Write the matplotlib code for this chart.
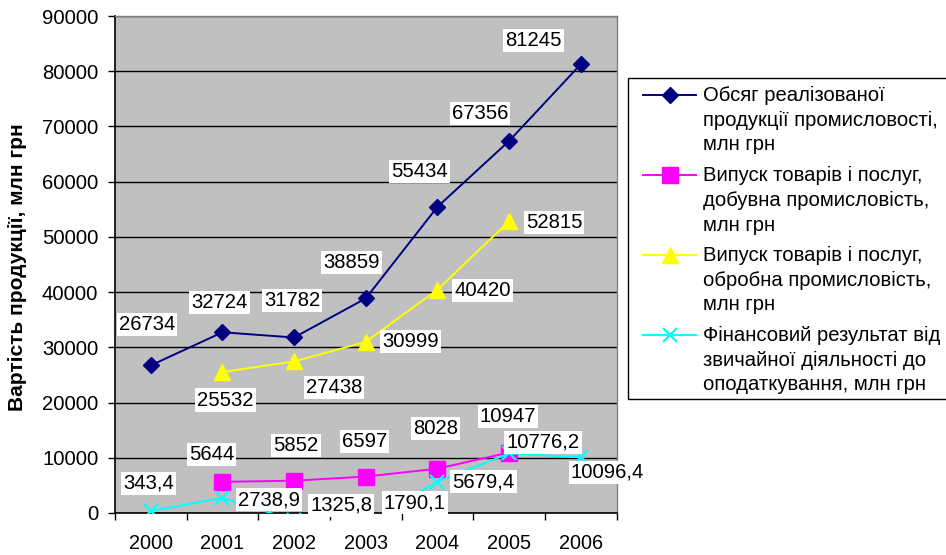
import numpy as np
import matplotlib
matplotlib.use("Agg")
import matplotlib.pyplot as plt
from matplotlib.lines import Line2D
from matplotlib.patches import Rectangle

plt.rcParams['font.family'] = ['Liberation Sans', 'DejaVu Sans']

# ---------------- data ----------------
years = ["2000", "2001", "2002", "2003", "2004", "2005", "2006"]
sales = [26734, 32724, 31782, 38859, 55434, 67356, 81245]
mining = [np.nan, 5644, 5852, 6597, 8028, 10947, np.nan]
manufacturing = [np.nan, 25532, 27438, 30999, 40420, 52815, np.nan]
fin_result = [343.4, 2738.9, -1325.8, -1790.1, 5679.4, 10776.2, 10096.4]

names = [
    ["Обсяг реалізованої", "продукції промисловості,", "млн грн"],
    ["Випуск товарів і послуг,", "добувна промисловість,", "млн грн"],
    ["Випуск товарів і послуг,", "обробна промисловість,", "млн грн"],
    ["Фінансовий результат від", "звичайної діяльності до", "оподаткування, млн грн"],
]
ylabel = "Вартість продукції, млн грн"

# ---------------- style ----------------
W, H = 946, 555
FS = 14.6
fig = plt.figure(figsize=(W / 100, H / 100), dpi=100)
ax = fig.add_axes([115 / W, 1 - 513 / H, (616.5 - 115) / W, (513 - 16) / H])
ax.set_facecolor("#C0C0C0")

x = np.arange(len(years))
styles = [
    dict(color="#000080", marker="D", ms=8.5, lw=1.4),
    dict(color="#FF00FF", marker="s", ms=11, lw=1.4),
    dict(color="#FFFF00", marker="^", ms=12, lw=1.4),
    dict(color="#00FFFF", marker="x", ms=10.5, lw=1.4, mew=1.6),
]
series = [sales, mining, manufacturing, fin_result]
for s, st in zip(series, styles):
    ax.plot(x, s, zorder=3, **st)

ax.set_xlim(-0.5, 6.5)
ax.set_ylim(0, 90000)
ax.set_yticks(np.arange(0, 90001, 10000))
ax.set_yticklabels([str(v) for v in range(0, 90001, 10000)], fontsize=FS)
ax.tick_params(axis="y", length=5, width=1, pad=7, direction="out")
ax.set_xticks(np.arange(-0.5, 7, 1))
ax.set_xticklabels([])
ax.set_xticks(x, minor=True)
ax.set_xticklabels(years, minor=True, fontsize=14.3)
ax.tick_params(axis="x", which="major", length=5, width=1, direction="out")
ax.tick_params(axis="x", which="minor", length=0, pad=15)
ax.grid(axis="y", color="black", lw=1, zorder=1)
ax.set_axisbelow(True)
for sp in ["left", "bottom"]:
    ax.spines[sp].set_color("black")
    ax.spines[sp].set_linewidth(1.2)
for sp in ["top", "right"]:
    ax.spines[sp].set_color("#808080")
    ax.spines[sp].set_linewidth(1)

fig.text(18 / W, 1 - 267 / H, ylabel, rotation=90, ha="center", va="center",
         fontsize=15, fontweight="bold")

# data labels (offsets in pixels)
def fmt_int(v):
    return f"{int(v)}"

def fmt_dec(v):
    return f"{abs(v):.1f}".replace(".", ",")

offsets = [
    [(-4, 41), (-3, 30), (-2, 37), (-14, 36), (-18, 35), (-29, 28), (-47, 24)],
    [None, (-11, 27), (2, 35), (-1, 35), (-2, 40), (-1, 36), None],
    [None, (3, -28), (40, -26), (45, 0), (45, -1), (45, -1), None],
    [(-2, 28), (47, -2), (47, 15), (49, 20), (46, 0), (34, 11), (27, -15)],
]
formatters = [fmt_int, fmt_int, fmt_int, fmt_dec]
for s, offs, f in zip(series, offsets, formatters):
    for xi, v, off in zip(x, s, offs):
        if off is None or np.isnan(v):
            continue
        ax.annotate(f(v), (xi, v), xytext=off, textcoords="offset pixels",
                    ha="center", va="center", fontsize=FS, zorder=10,
                    annotation_clip=False,
                    bbox=dict(facecolor="white", edgecolor="none", pad=1.5))

# legend (drawn in figure pixel space)
def fx(px):
    return px / W

def fy(py):
    return 1 - py / H

fig.patches.append(Rectangle((fx(628), fy(399)), fx(952) - fx(628), fy(78) - fy(399),
                             transform=fig.transFigure, facecolor="white",
                             edgecolor="black", lw=1, zorder=5))
first_lines = [95, 175, 255, 335]
for st, lines, y0 in zip(styles, names, first_lines):
    fig.lines.append(Line2D([fx(643), fx(696)], [fy(y0), fy(y0)], color=st["color"],
                            lw=st["lw"], transform=fig.transFigure, zorder=6))
    fig.lines.append(Line2D([fx(669.5)], [fy(y0)], color=st["color"], marker=st["marker"],
                            ms=st["ms"], mew=st.get("mew", 1), lw=0,
                            transform=fig.transFigure, zorder=7))
    for i, t in enumerate(lines):
        fig.text(fx(703), fy(y0 + 25 * i), t, ha="left", va="center", fontsize=14.6, zorder=8)

fig.savefig("out.png", dpi=100)
